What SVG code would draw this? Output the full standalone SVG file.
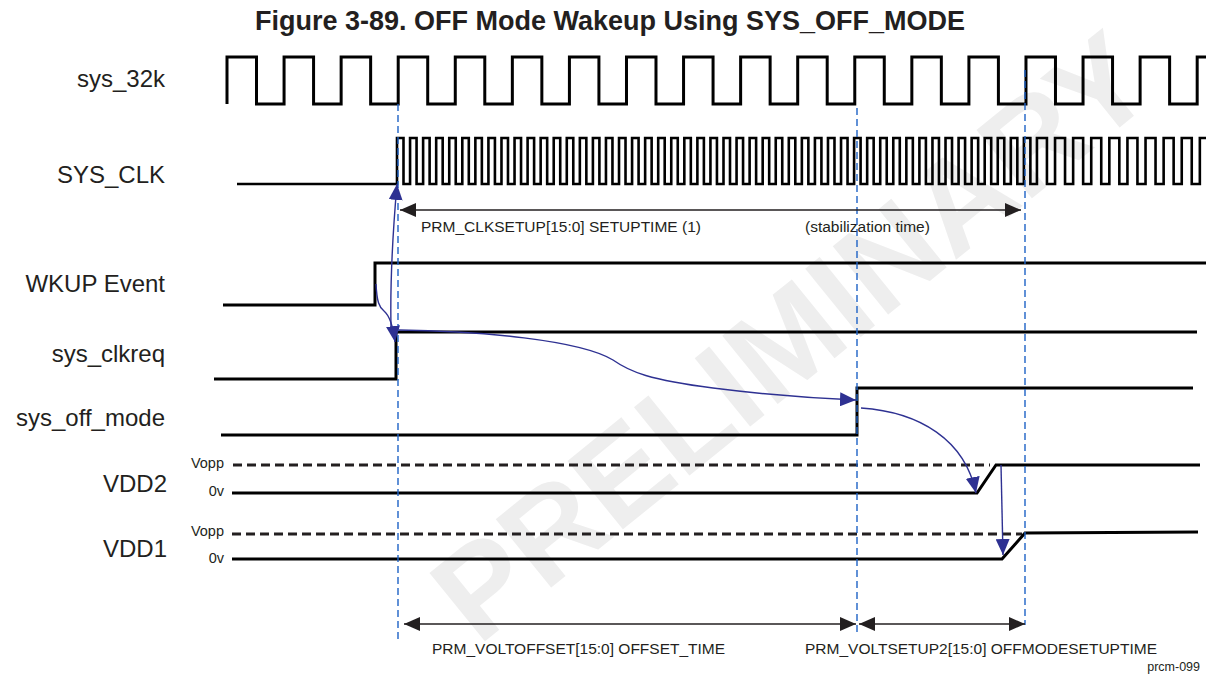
<svg xmlns="http://www.w3.org/2000/svg" width="1206" height="677" viewBox="0 0 1206 677">
<style>
text{font-family:"Liberation Sans",Arial,sans-serif;fill:#231f20}
.title{font-size:27px;font-weight:bold}
.lbl{font-size:24px;text-anchor:end}
.lv{font-size:14.5px;text-anchor:end}
.note{font-size:15.5px}
.wave{fill:none;stroke:#000;stroke-width:3;stroke-linejoin:miter}
.clk{fill:none;stroke:#000;stroke-width:2.6}
.vdash{fill:none;stroke:#231f20;stroke-width:3;stroke-dasharray:9 5}
.guide{fill:none;stroke:#1f63c6;stroke-width:1.4;stroke-dasharray:7 4}
.cause{fill:none;stroke:#2e3192;stroke-width:1.4}
.span{fill:none;stroke:#231f20;stroke-width:1.4}
.wm{font-size:128px;font-weight:bold;fill:#eeeeee;text-anchor:middle}
</style>
<defs>
<marker id="ab" viewBox="0 0 16 14" refX="16" refY="7" markerWidth="16" markerHeight="14" markerUnits="userSpaceOnUse" orient="auto"><path d="M0 0L16 7L0 14z" fill="#2e3192"/></marker>
<marker id="ak" viewBox="0 0 16 14" refX="16" refY="7" markerWidth="16" markerHeight="14" markerUnits="userSpaceOnUse" orient="auto-start-reverse"><path d="M0 0L16 7L0 14z" fill="#231f20"/></marker>
</defs>
<rect width="1206" height="677" fill="#fff"/>
<text class="wm" transform="translate(790,335) rotate(-39)" y="46">PRELIMINARY</text>

<text class="title" x="610" y="30" text-anchor="middle">Figure 3-89. OFF Mode Wakeup Using SYS_OFF_MODE</text>

<g id="sys_32k">
<text class="lbl" x="165" y="87">sys_32k</text>
<path class="wave" d="M227 104V57h29.5v47h27.57v-47h29.5v47h27.57v-47h29.5v47h27.57v-47h29.5v47h27.57v-47h29.5v47h27.57v-47h29.5v47h27.57v-47h29.5v47h27.57v-47h29.5v47h27.57v-47h29.5v47h27.57v-47h29.5v47h27.57v-47h29.5v47h27.57v-47h29.5v47h27.57v-47h29.5v47h27.57v-47h29.5v47h27.57v-47h29.5v47h27.57v-47h29.5v47h27.57v-47h29.5v47h27.57v-47h10"/>
</g>

<g id="SYS_CLK">
<text class="lbl" x="165" y="183">SYS_CLK</text>
<path class="clk" d="M237 184H397V138h6.5V184h6.56V138h6.5V184h6.56V138h6.5V184h6.56V138h6.5V184h6.56V138h6.5V184h6.56V138h6.5V184h6.56V138h6.5V184h6.56V138h6.5V184h6.56V138h6.5V184h6.56V138h6.5V184h6.56V138h6.5V184h6.56V138h6.5V184h6.56V138h6.5V184h6.56V138h6.5V184h6.56V138h6.5V184h6.56V138h6.5V184h6.56V138h6.5V184h6.56V138h6.5V184h6.56V138h6.5V184h6.56V138h6.5V184h6.56V138h6.5V184h6.56V138h6.5V184h6.56V138h6.5V184h6.56V138h6.5V184h6.56V138h6.5V184h6.56V138h6.5V184h6.56V138h6.5V184h6.56V138h6.5V184h6.56V138h6.5V184h6.56V138h6.5V184h6.56V138h6.5V184h6.56V138h6.5V184h6.56V138h6.5V184h6.56V138h6.5V184h6.56V138h6.5V184h6.56V138h6.5V184h6.56V138h6.5V184h6.56V138h6.5V184h6.56V138h6.5V184h6.56V138h6.5V184h6.56V138h6.5V184h6.56V138h6.5V184h6.56V138h6.5V184h6.56V138h6.5V184h6.56V138h6.5V184h6.56V138h6.5V184h6.56V138h6.5V184h6.56V138h6.5V184h6.56V138h6.5V184h6.56V138h10V184h8.1V138h10V184h8.1V138h10V184h8.1V138h10V184h8.1V138h10V184h8.1V138h10V184h8.1V138h10V184h8.1V138h10V184h8.1V138h10V184h8.1V138h10V184h8.1"/>
</g>

<g id="wkup_event">
<text class="lbl" x="165" y="292">WKUP Event</text>
<path class="wave" d="M223 305H375V263H1206"/>
</g>

<g id="sys_clkreq">
<text class="lbl" x="165" y="362">sys_clkreq</text>
<path class="wave" d="M214 379H396V332H1197"/>
</g>

<g id="sys_off_mode">
<text class="lbl" x="165" y="426">sys_off_mode</text>
<path class="wave" d="M221 435H857V388H1193"/>
</g>

<g id="VDD2">
<text class="lbl" x="167" y="492">VDD2</text>
<text class="lv" x="224" y="468">Vopp</text>
<text class="lv" x="224" y="496">0v</text>
<path class="vdash" d="M233 465H990"/>
<path class="wave" d="M232 493H977L996 465H1200"/>
</g>

<g id="VDD1">
<text class="lbl" x="167" y="557">VDD1</text>
<text class="lv" x="224" y="536">Vopp</text>
<text class="lv" x="224" y="563">0v</text>
<path class="vdash" d="M232 534H1022"/>
<path class="wave" d="M232 559H1002L1025 533L1198 532"/>
</g>

<g id="connectors">
<path class="guide" d="M398 104V640"/>
<path class="guide" d="M857 108V632"/>
<path class="guide" d="M1025 70V625"/>
<path class="cause" d="M376 284C377 302 379 307 384 311C390 316 393 326 395 342" marker-end="url(#ab)"/>
<path class="cause" d="M391 327C390 280 393 230 397 184" marker-end="url(#ab)"/>
<path class="cause" d="M399 330C480 331 580 340 613 360C630 372 650 380 713 388C760 394 810 398 856 400" marker-end="url(#ab)"/>
<path class="cause" d="M861 408C920 412 965 440 976 493" marker-end="url(#ab)"/>
<path class="cause" d="M1001 465L1003 555" marker-end="url(#ab)"/>
<path class="span" d="M400 210H1021" marker-start="url(#ak)" marker-end="url(#ak)"/>
<path class="span" d="M404 624H856" marker-start="url(#ak)" marker-end="url(#ak)"/>
<path class="span" d="M859 624H1025" marker-start="url(#ak)" marker-end="url(#ak)"/>
</g>

<g id="notes">
<text class="note" x="421" y="232">PRM_CLKSETUP[15:0] SETUPTIME (1)</text>
<text class="note" x="805" y="232">(stabilization time)</text>
<text class="note" x="432" y="654">PRM_VOLTOFFSET[15:0] OFFSET_TIME</text>
<text class="note" x="805" y="654">PRM_VOLTSETUP2[15:0] OFFMODESETUPTIME</text>
<text x="1200" y="671" font-size="12.5" text-anchor="end">prcm-099</text>
</g>
</svg>
